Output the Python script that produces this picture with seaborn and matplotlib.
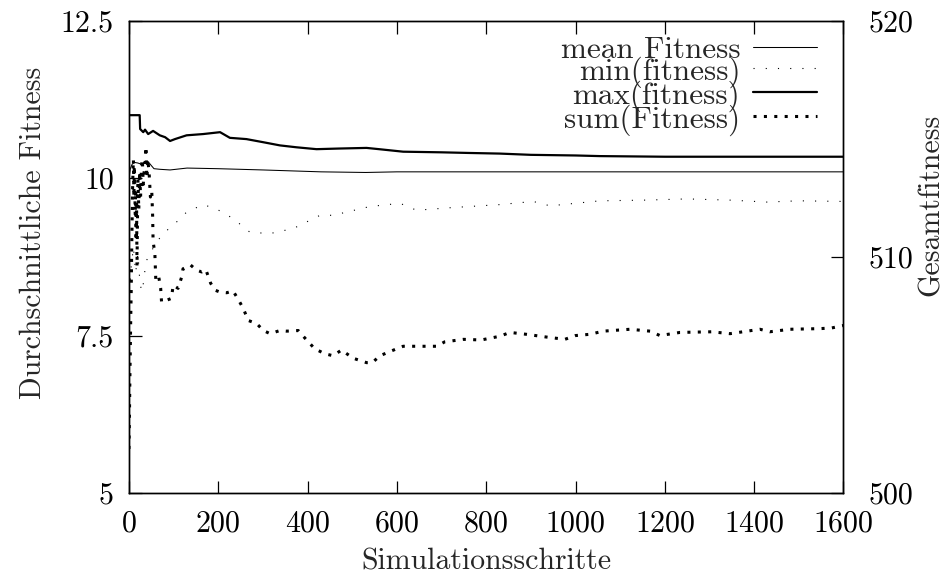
import matplotlib
matplotlib.use("Agg")
import matplotlib.pyplot as plt
import seaborn as sns
import pandas as pd
from matplotlib.ticker import FixedLocator, FuncFormatter

# ---------------- data ----------------
mean_steps = [0, 3, 7, 12, 20, 28, 35, 43, 50, 56, 70, 92, 130, 200, 300, 430, 530, 600, 800, 1000, 1200, 1400, 1600]
mean_fitness = [10.0, 10.15, 10.22, 10.25, 10.24, 10.22, 10.26, 10.26, 10.2, 10.15, 10.14, 10.13, 10.16,
                10.15, 10.13, 10.1, 10.09, 10.1, 10.1, 10.1, 10.1, 10.1, 10.1]

min_steps = [0, 5, 10, 15, 20, 25, 30, 35, 40, 47, 55, 62, 76, 99, 129, 166, 196, 233, 271, 316, 368, 428,
             457, 540, 607, 644, 719, 831, 905, 943, 1055, 1150, 1250, 1350, 1428, 1500, 1600]
min_fitness = [8.0, 8.6, 8.9, 8.5, 8.8, 8.3, 8.2, 8.5, 8.7, 8.8, 8.9, 8.98, 9.12, 9.25, 9.46, 9.58, 9.51,
               9.36, 9.14, 9.12, 9.2, 9.41, 9.41, 9.55, 9.6, 9.49, 9.53, 9.58, 9.63, 9.56, 9.64, 9.65,
               9.67, 9.65, 9.62, 9.64, 9.63]

max_steps = [0, 24, 25, 32, 36, 43, 54, 69, 81, 92, 103, 129, 166, 204, 226, 263, 301, 338, 375, 420, 470,
             532, 560, 614, 700, 760, 830, 900, 1000, 1054, 1200, 1400, 1600]
max_fitness = [11.0, 11.0, 10.78, 10.73, 10.77, 10.7, 10.75, 10.68, 10.65, 10.59, 10.62, 10.68, 10.7, 10.73,
               10.64, 10.62, 10.57, 10.52, 10.49, 10.46, 10.47, 10.48, 10.46, 10.42, 10.41, 10.4, 10.39,
               10.37, 10.36, 10.35, 10.34, 10.34, 10.34]

sum_steps = [0, 1, 2, 3, 4, 5, 6, 7, 8, 9, 10, 11, 12, 13, 14, 15, 16, 17, 18, 19, 20, 22, 24, 26, 28, 30,
             32, 34, 36, 38, 40, 42, 45, 48, 51, 53, 54, 58, 60, 66, 71, 73, 84, 95, 99, 110, 118, 121, 138,
             151, 163, 172, 178, 183, 193, 204, 219, 233, 245, 256, 267, 286, 301, 316, 338, 353, 379, 394,
             416, 439, 457, 476, 502, 532, 545, 562, 596, 614, 689, 707, 749, 789, 831, 853, 890, 931, 976,
             1000, 1032, 1062, 1122, 1167, 1189, 1234, 1305, 1346, 1413, 1435, 1480, 1547, 1573, 1600]
sum_fitness = [5.7, 6.2, 6.8, 7.3, 7.8, 8.2, 8.8, 9.3, 9.8, 10.1, 10.3, 9.7, 10.2, 9.9, 9.4, 9.8, 9.0, 9.6,
               8.6, 9.3, 10.0, 9.5, 10.1, 9.7, 10.2, 10.3, 9.9, 10.1, 10.2, 10.5, 10.0, 10.3, 10.1, 9.7,
               9.8, 9.4, 9.0, 8.8, 8.4, 8.46, 8.25, 8.03, 8.06, 8.09, 8.3, 8.25, 8.43, 8.56, 8.62, 8.54,
               8.51, 8.55, 8.43, 8.33, 8.22, 8.19, 8.18, 8.21, 8.07, 7.93, 7.74, 7.69, 7.58, 7.53, 7.58,
               7.57, 7.58, 7.46, 7.29, 7.21, 7.18, 7.27, 7.14, 7.07, 7.07, 7.18, 7.28, 7.33, 7.33, 7.4,
               7.44, 7.43, 7.49, 7.55, 7.52, 7.48, 7.44, 7.5, 7.52, 7.57, 7.6, 7.57, 7.5, 7.55, 7.56, 7.53,
               7.6, 7.56, 7.6, 7.61, 7.62, 7.66]

series_labels = ["mean Fitness", "min(fitness)", "max(fitness)", "sum(Fitness)"]
x_ticks = [0, 200, 400, 600, 800, 1000, 1200, 1400, 1600]
y_ticks = [5, 7.5, 10, 12.5]
y2_ticks = [500, 510, 520]
x_label = "Simulationsschritte"
y_label = "Durchschnittliche Fitness"
y2_label = "Gesamtfitness"

# ---------------- style ----------------
sns.set_theme(style="ticks")
plt.rcParams["font.family"] = ["cmr10", "DejaVu Serif"]
plt.rcParams["mathtext.fontset"] = "cm"
plt.rcParams["axes.formatter.use_mathtext"] = True
plt.rcParams["axes.unicode_minus"] = False
FS = 21.5
LEG_FS = 22.4

fig = plt.figure(figsize=(9.49, 5.77), dpi=100)
ax = fig.add_axes([0.1359, 0.1456, 0.7529, 0.8185])

specs = [
    (mean_steps, mean_fitness, 0.75, None),
    (min_steps, min_fitness, 0.8, (1, 10)),
    (max_steps, max_fitness, 1.6, None),
    (sum_steps, sum_fitness, 2.2, (1, 2.4)),
]
handles = []
for (xs, ys, lw, dash), lab in zip(specs, series_labels):
    df = pd.DataFrame({"step": xs, "value": ys})
    sns.lineplot(data=df, x="step", y="value", ax=ax, color="black", linewidth=lw,
                 estimator=None, sort=False, legend=False)
    line = ax.lines[-1]
    if dash is not None:
        line.set_dashes(dash)
        line.set_dash_capstyle("butt")
    line.set_label(lab)
    handles.append(line)

ax.set_xlim(0, 1600)
ax.set_ylim(5, 12.5)
ax.xaxis.set_major_locator(FixedLocator(x_ticks))
ax.yaxis.set_major_locator(FixedLocator(y_ticks))
ax.yaxis.set_major_formatter(FuncFormatter(lambda v, p: f"{v:g}"))
ax.tick_params(axis="x", direction="in", length=9, width=0.9, top=True, bottom=True,
               labelsize=FS, pad=12, colors="black")
ax.tick_params(axis="y", direction="in", length=9, width=0.9, left=True, right=False,
               labelsize=FS, pad=11, colors="black")
ax.set_xlabel(x_label, fontsize=FS, labelpad=8)
ax.set_ylabel(y_label, fontsize=FS)
ax.yaxis.set_label_coords(-0.115, 0.55)
for s in ax.spines.values():
    s.set_linewidth(1.0)
    s.set_color("black")

ax2 = ax.twinx()
ax2.set_ylim(500, 520)
ax2.yaxis.set_major_locator(FixedLocator(y2_ticks))
ax2.yaxis.set_major_formatter(FuncFormatter(lambda v, p: f"{v:g}"))
ax2.tick_params(axis="y", direction="in", length=9, width=0.9, right=True, left=False,
                labelsize=FS, pad=18, colors="black")
ax2.set_ylabel(y2_label, fontsize=FS, rotation=90)
ax2.yaxis.set_label_coords(1.104, 0.61)
ax2.yaxis.label.set_verticalalignment("top")
for s in ax2.spines.values():
    s.set_linewidth(1.0)
    s.set_color("black")

leg = ax.legend(handles=handles, labels=series_labels, loc="upper right",
                bbox_to_anchor=(0.9678, 0.9746), frameon=False,
                markerfirst=False, fontsize=LEG_FS, handlelength=2.06, handletextpad=0.42,
                labelspacing=-0.24, borderaxespad=0.0, borderpad=0.1)

fig.savefig("out.png", dpi=100)
